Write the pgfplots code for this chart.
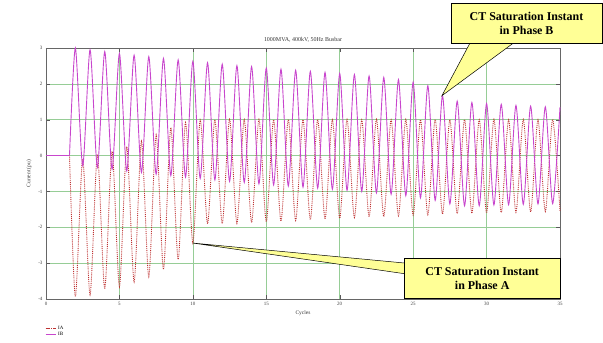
\documentclass[border=0pt]{standalone}
\usepackage{fontspec}
\setmainfont{Liberation Serif}
\usepackage{pgfplots}
\pgfplotsset{compat=1.18}
\definecolor{ibcol}{RGB}{200,70,205}
\definecolor{iacol}{RGB}{190,50,50}
\definecolor{gridg}{RGB}{150,205,150}
\definecolor{callout}{RGB}{255,255,150}
\begin{document}
\begin{tikzpicture}
\begin{axis}[
  scale only axis, width=514bp, height=251bp,
  xmin=0, xmax=35, ymin=-4, ymax=3,
  xtick={0,5,...,35}, ytick={-4,-3,...,3},
  grid=major, major grid style={gridg, line width=0.5pt},
  axis line style={gray!80!black, line width=0.8pt},
  tick style={gray!70!black},
  tick label style={font=\fontsize{5}{6}\selectfont, text=gray!50!black},
  /pgf/number format/assume math mode=true,
  title={\fontsize{6}{7}\selectfont 1000MVA, 400kV, 50Hz Busbar},
  title style={yshift=-4bp, text=gray!40!black},
  xlabel={Cycles}, ylabel={Current (pu)},
  label style={font=\fontsize{5.5}{6}\selectfont, text=gray!40!black},
  xlabel style={yshift=2bp},
  clip=false,
  legend style={draw=none, fill=none, font=\fontsize{5}{6}\selectfont, at={(-0.008,-0.09)}, anchor=north west, row sep=-2pt},
  legend cell align=left,
  legend image post style={xscale=0.6},
]
\addplot[iacol, densely dotted, line width=0.9pt, smooth, tension=0.45] coordinates {
(1.6,0)(2,-3.94)(2.5,-0.10)(3,-3.88)(3.5,0.03)(4,-3.72)(4.5,0.12)(5,-3.66)(5.5,0.25)(6,-3.52)(6.5,0.40)(7,-3.38)(7.5,0.58)(8,-3.18)(8.5,0.78)(9,-2.90)(9.5,0.92)(10,-2.44)(10.5,1.00)(11,-1.90)(11.5,1.00)(12,-1.90)(12.5,1.01)(13,-1.89)(13.5,1.00)(14,-1.87)(14.5,1.01)(15,-1.85)(15.5,1.00)(16,-1.83)(16.5,1.01)(17,-1.81)(17.5,1.00)(18,-1.79)(18.5,1.01)(19,-1.77)(19.5,1.00)(20,-1.75)(20.5,1.01)(21,-1.73)(21.5,1.00)(22,-1.71)(22.5,1.01)(23,-1.70)(23.5,1.00)(24,-1.68)(24.5,1.01)(25,-1.66)(25.5,1.00)(26,-1.65)(26.5,1.01)(27,-1.63)(27.5,1.00)(28,-1.62)(28.5,1.01)(29,-1.61)(29.5,1.00)(30,-1.60)(30.5,1.01)(31,-1.59)(31.5,1.00)(32,-1.58)(32.5,1.01)(33,-1.57)(33.5,1.00)(34,-1.56)(34.5,1.01)(35,-1.55)
};
\addlegendentry{IA}
\addplot[ibcol, solid, line width=0.9pt, smooth, tension=0.45] coordinates {
(1.6,0)(2,3.00)(2.5,-0.28)(3,2.95)(3.5,-0.33)(4,2.90)(4.5,-0.38)(5,2.85)(5.5,-0.43)(6,2.80)(6.5,-0.47)(7,2.76)(7.5,-0.52)(8,2.71)(8.5,-0.56)(9,2.67)(9.5,-0.60)(10,2.63)(10.5,-0.64)(11,2.59)(11.5,-0.68)(12,2.55)(12.5,-0.72)(13,2.51)(13.5,-0.75)(14,2.48)(14.5,-0.79)(15,2.44)(15.5,-0.82)(16,2.41)(16.5,-0.85)(17,2.38)(17.5,-0.88)(18,2.35)(18.5,-0.91)(19,2.32)(19.5,-0.94)(20,2.29)(20.5,-0.97)(21,2.26)(21.5,-1.00)(22,2.22)(22.5,-1.04)(23,2.18)(23.5,-1.08)(24,2.12)(24.5,-1.12)(25,2.05)(25.5,-1.18)(26,1.95)(26.5,-1.25)(27,1.67)(27.5,-1.35)(28,1.52)(28.5,-1.40)(29,1.48)(29.5,-1.40)(30,1.45)(30.5,-1.38)(31,1.43)(31.5,-1.37)(32,1.40)(32.5,-1.36)(33,1.38)(33.5,-1.35)(34,1.36)(34.5,-1.34)(35,1.35)
};
\addlegendentry{IB}
\addplot[ibcol, solid, line width=0.9pt, forget plot] coordinates {(0,0)(1.6,0)};
% callout B
\draw[fill=callout, draw=black, line width=0.5pt] (axis cs:28.86,3.13) -- (axis cs:26.96,1.67) -- (axis cs:31.8,3.13);
\draw[fill=callout, draw=black, line width=0.6pt] (axis cs:27.6,3.12) rectangle (axis cs:37.85,4.25);
\node[align=center, font=\bfseries\fontsize{12}{14}\selectfont] at (axis cs:32.72,3.68) {CT Saturation Instant\\in Phase B};
% callout A
\draw[fill=callout, draw=black, line width=0.5pt] (axis cs:24.5,-3.0) -- (axis cs:10.0,-2.44) -- (axis cs:24.5,-3.3);
\draw[fill=callout, draw=black, line width=0.6pt] (axis cs:24.4,-2.86) rectangle (axis cs:35,-3.98);
\node[align=center, font=\bfseries\fontsize{12}{14}\selectfont] at (axis cs:29.7,-3.42) {CT Saturation Instant\\in Phase A};
\end{axis}
\pgfresetboundingbox
\path[use as bounding box] (current axis.south west) ++(-46bp,-44bp) rectangle ++(603bp,343bp);
\end{tikzpicture}
\end{document}
